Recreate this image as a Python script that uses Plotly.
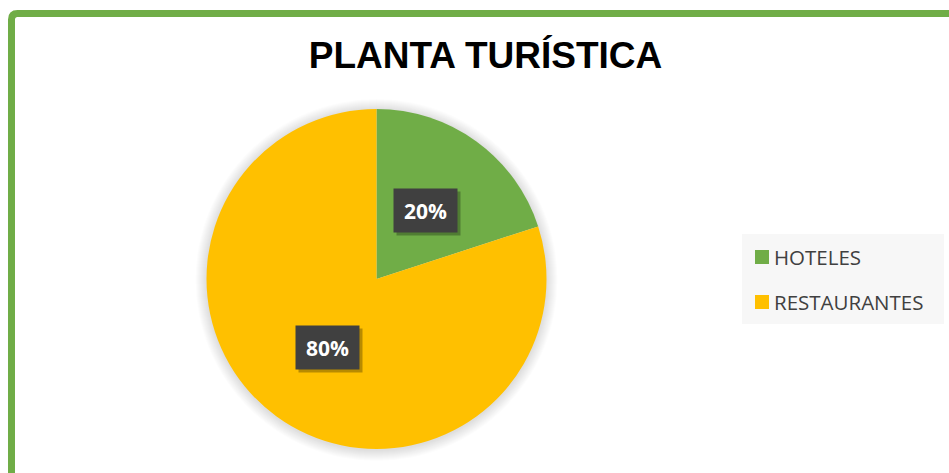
import math
import plotly.graph_objects as go

# ---- data ----
labels = ["HOTELES", "RESTAURANTES"]
values = [20, 80]
colors = ["#70AD47", "#FFC000"]
title_text = "PLANTA TURÍSTICA"

W, H = 949, 473

def px(x):
    return x / W

def py(y):
    return 1 - y / H

# pie geometry (pixels)
cx, cy, R = 376.5, 279.0, 170.0

fig = go.Figure()
fig.add_trace(go.Pie(
    labels=labels, values=values, sort=False, direction="clockwise", rotation=0,
    marker=dict(colors=colors, line=dict(width=0)),
    textinfo="none", hoverinfo="label+percent", showlegend=False,
    domain=dict(x=[px(cx - R), px(cx + R)], y=[py(cy + R), py(cy - R)]),
))

shapes = []
# soft shadow around pie
for k in range(1, 12):
    r = R + k
    shapes.append(dict(type="circle", xref="paper", yref="paper",
                       x0=px(cx - r), x1=px(cx + r), y0=py(cy + r + 1), y1=py(cy - r + 1),
                       fillcolor="rgba(0,0,0,0.012)", line=dict(width=0), layer="below"))

# green frame
bx, by = 11.5, 13.5
path = (f"M {px(bx)},{py(480)} L {px(bx)},{py(by + 6)} "
        f"Q {px(bx)},{py(by)} {px(bx + 6)},{py(by)} L {px(960)},{py(by)}")
shapes.append(dict(type="path", xref="paper", yref="paper", path=path,
                   line=dict(color="#70AD47", width=7), layer="above"))

# legend box (manual, built from labels/colors)
lx0, lx1, ly0, ly1 = 742, 944, 234, 324
shapes.append(dict(type="rect", xref="paper", yref="paper",
                   x0=px(lx0), x1=px(lx1), y0=py(ly1), y1=py(ly0),
                   fillcolor="#F7F7F7", line=dict(width=0), layer="below"))
annotations = []
item_y = [257, 302]
for lab, col, iy in zip(labels, colors, item_y):
    shapes.append(dict(type="rect", xref="paper", yref="paper",
                       x0=px(755), x1=px(769), y0=py(iy + 7), y1=py(iy - 7),
                       fillcolor=col, line=dict(width=0), layer="above"))
    annotations.append(dict(x=px(772), y=py(iy), xref="paper", yref="paper",
                            text=lab, showarrow=False, xanchor="left", yanchor="middle",
                            font=dict(family="Open Sans", size=20.5, color="#404040")))

# data labels (positions derived from values)
total = sum(values)
cum = 0
for v in values:
    mid = (cum + v / 2) / total * 2 * math.pi
    cum += v
    lr = 0.495 * R
    xx = cx + lr * math.sin(mid)
    yy = cy - lr * math.cos(mid)
    pct = f"{round(v / total * 100)}%"
    annotations.append(dict(x=px(xx + 3), y=py(yy + 3), xref="paper", yref="paper",
                            text=" ", showarrow=False, width=63, height=43,
                            xanchor="center", yanchor="middle",
                            bgcolor="rgba(0,0,0,0.28)", borderpad=0))
    annotations.append(dict(x=px(xx), y=py(yy), xref="paper", yref="paper",
                            text=f"<b>{pct}</b>", showarrow=False, width=63, height=43,
                            xanchor="center", yanchor="middle",
                            bgcolor="#404040", borderpad=0,
                            font=dict(family="Open Sans", size=21, color="white")))

fig.update_layout(
    width=W, height=H,
    margin=dict(l=0, r=0, t=0, b=0),
    paper_bgcolor="white", plot_bgcolor="white",
    title=dict(text=f"<b>{title_text}</b>", x=px(485.5), xanchor="center",
               y=py(55.4), yanchor="middle",
               font=dict(family="Liberation Sans, Arial", size=37, color="black")),
    shapes=shapes, annotations=annotations, showlegend=False,
)

fig.write_html("out.html", config={"displayModeBar": False},
               post_script="document.body.style.margin='0';document.body.style.overflow='hidden';")
